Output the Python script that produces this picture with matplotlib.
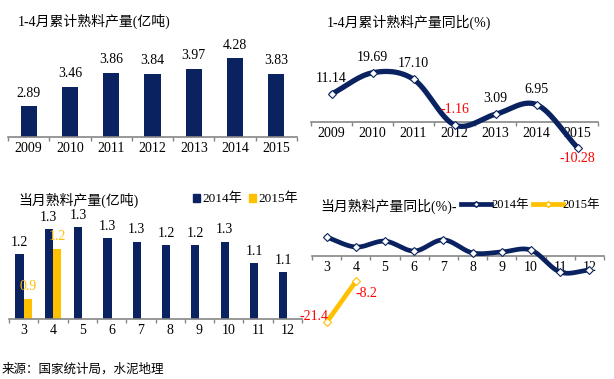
import numpy as np
import matplotlib.pyplot as plt
from matplotlib.patches import Patch
from matplotlib.lines import Line2D

plt.rcParams['font.family'] = ['Liberation Serif', 'Noto Sans CJK SC']

# data
years = ['2009', '2010', '2011', '2012', '2013', '2014', '2015']
cum_output = [2.89, 3.46, 3.86, 3.84, 3.97, 4.28, 3.83]
cum_yoy = [11.14, 19.69, 17.10, -1.16, 3.09, 6.95, -10.28]

months = ['3', '4', '5', '6', '7', '8', '9', '10', '11', '12']
month_2014 = [1.19, 1.33, 1.34, 1.28, 1.26, 1.24, 1.24, 1.26, 1.14, 1.09]
month_2015 = [0.94, 1.22]
yoy_2014 = [6.1, 2.9, 4.8, 1.6, 5.2, 1.0, 1.3, 1.9, -5.2, -4.5]
yoy_2015 = [-21.4, -8.2]

NAVY = '#0B2260'
GOLD = '#FFC000'
RED = '#FF0000'
GREY = '#868686'
W, H = 614, 379
FS = 10


def box(l, t, r, b):
    # pixel box -> figure fraction
    return [l / W, 1 - b / H, (r - l) / W, (b - t) / H]


def smooth(y, n=30):
    # hermite curve through the points (like Excel's smoothed line)
    x = np.arange(len(y), dtype=float)
    y = np.asarray(y, dtype=float)
    m = np.gradient(y, x)
    xs, ys = [], []
    for i in range(len(y) - 1):
        t = np.linspace(0, 1, n)
        h00 = 2*t**3 - 3*t**2 + 1
        h10 = t**3 - 2*t**2 + t
        h01 = -2*t**3 + 3*t**2
        h11 = t**3 - t**2
        xs.append(x[i] + t)
        ys.append(h00*y[i] + h10*m[i] + h01*y[i+1] + h11*m[i+1])
    return np.concatenate(xs), np.concatenate(ys)


def style(ax, labels, zero=False):
    n = len(labels)
    for s in ['top', 'left', 'right']:
        ax.spines[s].set_visible(False)
    ax.spines['bottom'].set_color(GREY)
    ax.spines['bottom'].set_linewidth(1.2)
    if zero:
        ax.spines['bottom'].set_position(('data', 0))
    ax.set_yticks([])
    ax.set_xlim(-0.5, n - 0.5)
    ax.set_xticks(np.arange(n + 1) - 0.5)
    ax.set_xticklabels([''] * (n + 1))
    ax.set_xticks(np.arange(n), minor=True)
    ax.set_xticklabels(labels, minor=True, fontsize=FS)
    ax.tick_params(axis='x', which='major', length=3, color=GREY, width=1)
    ax.tick_params(axis='x', which='minor', length=0, pad=3.5)
    ax.patch.set_alpha(0)


fig = plt.figure(figsize=(6.14, 3.79), dpi=100)

# top left: cumulative output
ax1 = fig.add_axes(box(8, 33.5, 297, 137))
x = np.arange(len(years))
ax1.bar(x, cum_output, width=0.39, color=NAVY)
ax1.set_ylim(2.0, 5.0)
style(ax1, years)
for i, v in enumerate(cum_output):
    ax1.annotate(f'{v:.2f}', (i, v), xytext=(0, 9.5), textcoords='offset points',
                 ha='center', va='center', fontsize=FS)
fig.text(18 / W, 1 - 21 / H, '1-4月累计熟料产量(亿吨)', fontsize=FS, va='center')

# top right: cumulative yoy
ax2 = fig.add_axes(box(311, 47, 598, 172))
ax2.set_ylim(-20, 30)
style(ax2, years, zero=True)
sx, sy = smooth(cum_yoy)
ax2.plot(sx, sy, color=NAVY, lw=3.8, solid_capstyle='round', zorder=3)
ax2.plot(x, cum_yoy, ls='none', marker='D', ms=4, mfc='white', mec=NAVY, mew=0.8, zorder=4)
for i, v in enumerate(cum_yoy):
    c = RED if v < 0 else 'black'
    dy = -8 if i == len(cum_yoy) - 1 else 11
    ax2.annotate(f'{v:.2f}', (i, v), xytext=(0, dy), textcoords='offset points',
                 ha='center', va='center', fontsize=FS, color=c)
fig.text(327 / W, 1 - 22 / H, '1-4月累计熟料产量同比(%)', fontsize=FS, va='center')

# bottom left: monthly output
ax3 = fig.add_axes(box(9, 199, 302, 319))
xm = np.arange(len(months))
bw = 0.28
ax3.bar(xm - bw / 2, month_2014, width=bw, color=NAVY, label='2014年')
ax3.bar(np.arange(len(month_2015)) + bw / 2, month_2015, width=bw, color=GOLD, label='2015年')
ax3.set_ylim(0.826, 1.5)
style(ax3, months)
for i, v in enumerate(month_2014):
    ax3.annotate(f'{v:.1f}', (i - bw / 2, v), xytext=(0, 8.6), textcoords='offset points',
                 ha='center', va='center', fontsize=FS)
for i, v in enumerate(month_2015):
    ax3.annotate(f'{v:.1f}', (i + bw / 2, v), xytext=(0, 8.6), textcoords='offset points',
                 ha='center', va='center', fontsize=FS, color=GOLD)
fig.text(18 / W, 1 - 200 / H, '当月熟料产量(亿吨)', fontsize=FS, va='center')
h3 = [Patch(color=NAVY), Patch(color=GOLD)]
fig.legend(h3, ['2014年', '2015年'], loc='center left', bbox_to_anchor=(186 / W, 1 - 199 / H),
           ncol=2, frameon=False, fontsize=9.5, handlelength=0.55, handleheight=0.55,
           handletextpad=0.2, columnspacing=0.5, borderpad=0)

# bottom right: monthly yoy
ax4 = fig.add_axes(box(312, 209.5, 604, 333.5))
ax4.set_ylim(-25, 15)
style(ax4, months, zero=True)
sx, sy = smooth(yoy_2014)
ax4.plot(sx, sy, color=NAVY, lw=3.4, solid_capstyle='round', zorder=3)
ax4.plot(xm, yoy_2014, ls='none', marker='D', ms=4, mfc='white', mec=NAVY, mew=0.8, zorder=4)
x15 = np.arange(len(yoy_2015))
ax4.plot(x15, yoy_2015, color=GOLD, lw=3.4, solid_capstyle='round', zorder=3)
ax4.plot(x15, yoy_2015, ls='none', marker='D', ms=4, mfc='white', mec=GOLD, mew=0.8, zorder=4)
ax4.annotate(f'{yoy_2015[0]:.1f}', (0, yoy_2015[0]), xytext=(-9, 4), textcoords='offset points',
             ha='center', va='center', fontsize=FS, color=RED)
ax4.annotate(f'{yoy_2015[1]:.1f}', (1, yoy_2015[1]), xytext=(8, -9), textcoords='offset points',
             ha='center', va='center', fontsize=FS, color=RED)
fig.text(320 / W, 1 - 206 / H, '当月熟料产量同比(%)-', fontsize=FS, va='center')
h4 = [Line2D([], [], color=NAVY, lw=3.4, marker='D', ms=3, mfc='white', mec=NAVY),
      Line2D([], [], color=GOLD, lw=3.4, marker='D', ms=3, mfc='white', mec=GOLD)]
fig.legend(h4, ['2014年', '2015年'], loc='center left', bbox_to_anchor=(455 / W, 1 - 205 / H),
           ncol=2, frameon=False, fontsize=9, handlelength=2.4, handletextpad=0.0,
           columnspacing=0.3, borderpad=0, markerscale=1)

fig.text(2 / W, 1 - 369 / H, '来源：国家统计局，水泥地理', fontsize=9, va='center')

fig.savefig('out.png', dpi=100)
